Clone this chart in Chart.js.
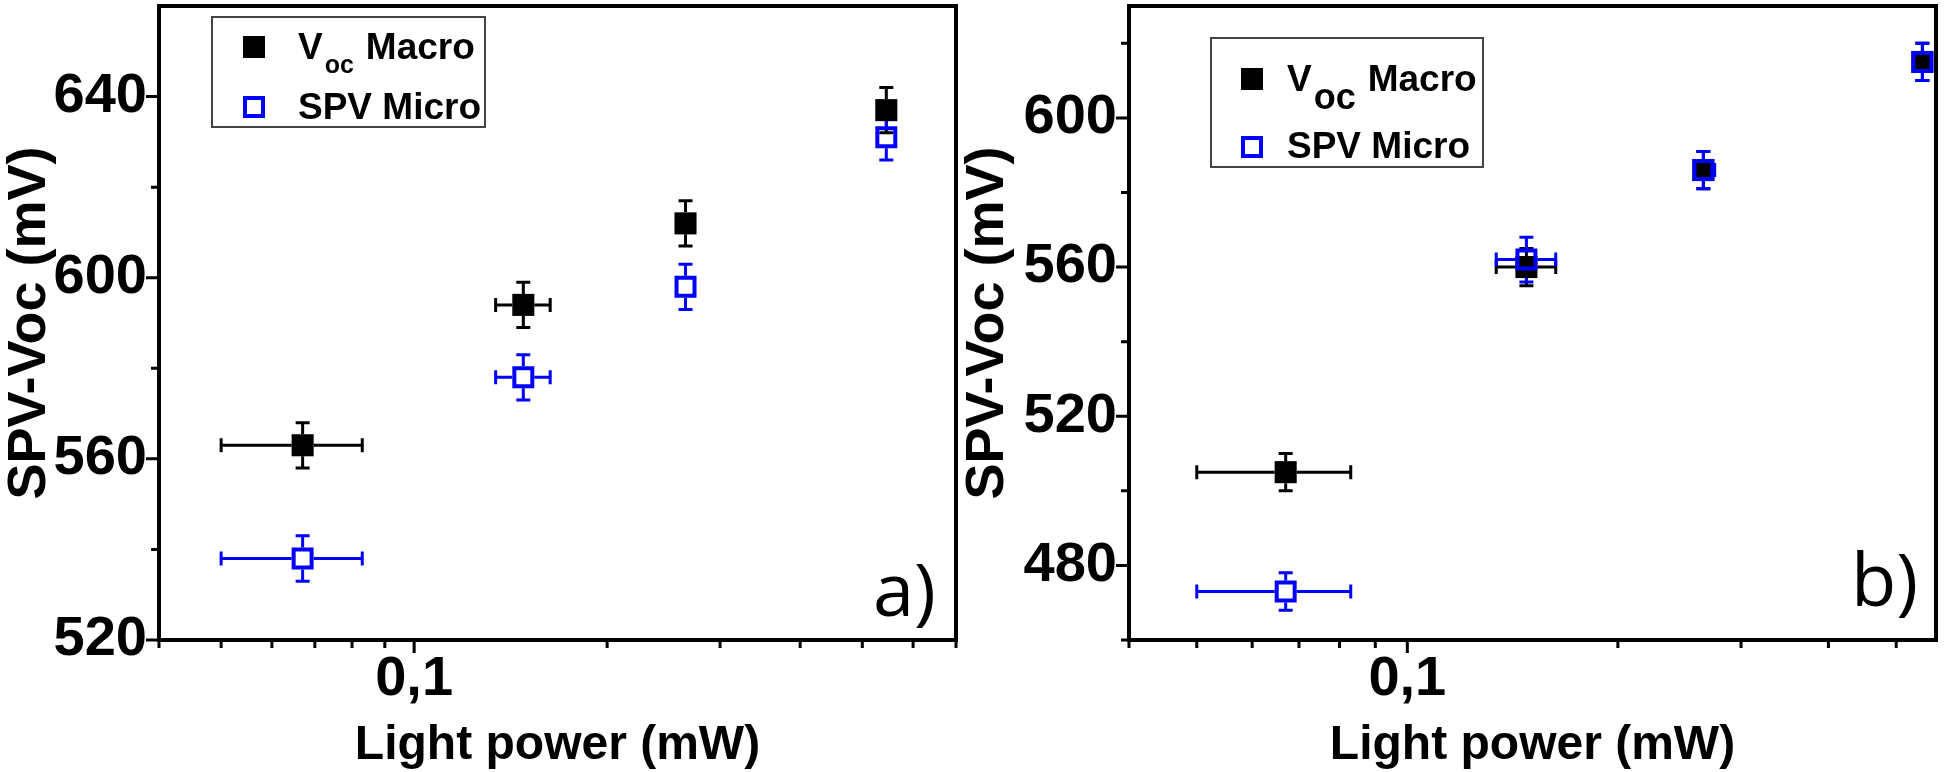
<!DOCTYPE html>
<html>
<head>
<meta charset="utf-8">
<script src="https://cdn.jsdelivr.net/npm/chart.js@4.4.0/dist/chart.umd.min.js"></script>
<style>
  html, body { margin: 0; padding: 0; background: #fff; }
  body { width: 1946px; height: 772px; position: relative; overflow: hidden; }
  canvas { position: absolute; top: 0; }
  #chartA { left: 0; }
  #chartB { left: 958px; }
</style>
</head>
<body>
<canvas id="chartA" width="958" height="772"></canvas>
<canvas id="chartB" width="988" height="772"></canvas>
<script>
// light power (mW), same four spots in both panels
const powerX = [0.067, 0.148, 0.265, 0.545];
const powerLo = [0.050, 0.134, 0.256, 0.527];
const powerHi = [0.083, 0.163, 0.275, 0.565];

// panel a)
const macroA = [563, 594, 612, 637];
const macroAErr = [5, 5, 5, 5];
const microA = [538, 578, 598, 631];
const microAErr = [5, 5, 5, 5];

// panel b)
const macroB = [505, 560, 586, 615];
const macroBErr = [5, 5, 5, 5];
const microB = [473, 562, 586, 615];
const microBErr = [5, 6, 5, 5];

// axes
const yMajorA = [520, 560, 600, 640];
const yMinorA = [540, 580, 620];
const yMajorB = [480, 520, 560, 600];
const yMinorB = [460, 500, 540, 580, 620];
const xMajor = [0.1];
const xMinorA = [0.04, 0.05, 0.06, 0.07, 0.08, 0.09, 0.2, 0.3, 0.4, 0.5, 0.6, 0.7];
const xMinorB = [0.04, 0.05, 0.06, 0.07, 0.08, 0.09, 0.2, 0.3, 0.4, 0.5];

const BLUE = '#0000ff';
const SANS = '"Liberation Sans", Arial, sans-serif';

const toPoints = (ys) => powerX.map((x, i) => ({ x: x, y: ys[i] }));

function drawErrorBars(chart) {
  const { ctx, scales: { x, y } } = chart;
  const half = 11, cap = 7;
  chart.data.datasets.forEach(ds => {
    ctx.save();
    ctx.strokeStyle = ds.barColor;
    ctx.lineWidth = 3;
    ctx.beginPath();
    ds.data.forEach((p, i) => {
      const cx = x.getPixelForValue(p.x), cy = y.getPixelForValue(p.y);
      const top = y.getPixelForValue(p.y + ds.errY[i]);
      const bot = y.getPixelForValue(p.y - ds.errY[i]);
      const lo = x.getPixelForValue(ds.errLo[i]);
      const hi = x.getPixelForValue(ds.errHi[i]);
      if (top < cy - half) {
        ctx.moveTo(cx, cy - half); ctx.lineTo(cx, top);
        ctx.moveTo(cx - cap, top); ctx.lineTo(cx + cap, top);
      }
      if (bot > cy + half) {
        ctx.moveTo(cx, cy + half); ctx.lineTo(cx, bot);
        ctx.moveTo(cx - cap, bot); ctx.lineTo(cx + cap, bot);
      }
      if (lo < cx - half) {
        ctx.moveTo(cx - half, cy); ctx.lineTo(lo, cy);
        ctx.moveTo(lo, cy - cap); ctx.lineTo(lo, cy + cap);
      }
      if (hi > cx + half) {
        ctx.moveTo(cx + half, cy); ctx.lineTo(hi, cy);
        ctx.moveTo(hi, cy - cap); ctx.lineTo(hi, cy + cap);
      }
    });
    ctx.stroke();
    ctx.restore();
  });
}

function drawFrame(chart, o) {
  const { ctx, chartArea: a, scales: { x, y } } = chart;
  ctx.save();
  ctx.strokeStyle = '#000';
  ctx.lineWidth = 3;
  ctx.beginPath();
  const tick = (v, len, horiz) => {
    if (horiz) {
      const px = x.getPixelForValue(v);
      ctx.moveTo(px, a.bottom); ctx.lineTo(px, a.bottom + len);
    } else {
      const py = y.getPixelForValue(v);
      ctx.moveTo(a.left, py); ctx.lineTo(a.left - len, py);
    }
  };
  o.xMajor.forEach(v => tick(v, 13, true));
  o.xMinor.forEach(v => tick(v, 8, true));
  o.yMajor.forEach(v => tick(v, 13, false));
  o.yMinor.forEach(v => tick(v, 8, false));
  ctx.stroke();
  ctx.lineWidth = 4;
  ctx.strokeRect(a.left, a.top, a.right - a.left, a.bottom - a.top);
  ctx.restore();
}

function drawLegend(chart, L) {
  const ctx = chart.ctx;
  ctx.save();
  ctx.fillStyle = '#fff';
  ctx.fillRect(L.box[0], L.box[1], L.box[2], L.box[3]);
  ctx.strokeStyle = '#444';
  ctx.lineWidth = 2;
  ctx.strokeRect(L.box[0], L.box[1], L.box[2], L.box[3]);
  // symbols
  ctx.fillStyle = '#000';
  ctx.fillRect(L.mx - 11, L.row1 - 11, 22, 22);
  ctx.strokeStyle = BLUE;
  ctx.lineWidth = 4;
  ctx.strokeRect(L.mx - 9, L.row2 - 9, 18, 18);
  // texts
  ctx.fillStyle = '#000';
  ctx.textBaseline = 'alphabetic';
  ctx.textAlign = 'left';
  ctx.font = 'bold 37px ' + SANS;
  ctx.fillText('V', L.tx, L.base1);
  let xx = L.tx + ctx.measureText('V').width + 2;
  ctx.font = 'bold ' + L.subSize + 'px ' + SANS;
  ctx.fillText('oc', xx, L.subBase);
  xx += ctx.measureText('oc').width + 12;
  ctx.font = 'bold 37px ' + SANS;
  ctx.fillText('Macro', xx, L.base1);
  ctx.fillText('SPV Micro', L.tx, L.base2);
  // panel tag
  ctx.font = '74px "Open Sans", "Noto Sans", sans-serif';
  ctx.fillText(L.tag, L.tagX, L.tagY);
  ctx.restore();
}

const decor = {
  id: 'decor',
  beforeDatasetsDraw(chart) { drawErrorBars(chart); },
  afterDraw(chart, args, opts) {
    drawFrame(chart, opts);
    drawLegend(chart, opts.legend);
  }
};

const noPad = s => { s.paddingTop = 0; s.paddingBottom = 0; s.paddingLeft = 0; s.paddingRight = 0; };

function makeChart(id, cfg) {
  return new Chart(document.getElementById(id), {
    type: 'scatter',
    data: {
      datasets: [
        {
          label: 'Voc Macro',
          data: toPoints(cfg.macro),
          errY: cfg.macroErr, errLo: powerLo, errHi: powerHi, barColor: '#000',
          pointStyle: 'rect', pointRadius: 15.6, pointHoverRadius: 15.6,
          backgroundColor: '#000', borderWidth: 0, order: 2
        },
        {
          label: 'SPV Micro',
          data: toPoints(cfg.micro),
          errY: cfg.microErr, errLo: powerLo, errHi: powerHi, barColor: BLUE,
          pointStyle: 'rect', pointRadius: 12.7, pointHoverRadius: 12.7,
          backgroundColor: 'rgba(0,0,0,0)', borderColor: BLUE, borderWidth: 4, order: 1
        }
      ]
    },
    options: {
      responsive: false,
      animation: false,
      events: [],
      layout: { autoPadding: false, padding: { top: 6, right: cfg.padRight, left: 0, bottom: 0 } },
      plugins: {
        legend: { display: false },
        tooltip: { enabled: false },
        decor: {
          xMajor: xMajor, xMinor: cfg.xMinor,
          yMajor: cfg.yMajor, yMinor: cfg.yMinor,
          legend: cfg.legend
        }
      },
      scales: {
        x: {
          type: 'logarithmic',
          min: 0.04, max: cfg.xMax,
          afterBuildTicks: s => { s.ticks = xMajor.map(v => ({ value: v })); },
          afterFit: s => { s.height = 132; noPad(s); },
          grid: { display: false, drawTicks: false },
          border: { display: false },
          ticks: {
            autoSkip: false, maxRotation: 0, padding: 6, color: '#000',
            font: { family: SANS, size: 56, weight: 'bold' },
            callback: v => String(v).replace('.', ',')
          },
          title: {
            display: true, text: 'Light power (mW)', color: '#000',
            font: { family: SANS, size: 48, weight: 'bold', lineHeight: 1.1 },
            padding: { top: 0, bottom: 0 }
          }
        },
        y: {
          min: cfg.yMin, max: cfg.yMax,
          afterBuildTicks: s => { s.ticks = cfg.yMajor.map(v => ({ value: v })); },
          afterFit: s => { s.width = cfg.yWidth; noPad(s); },
          grid: { display: false, drawTicks: false },
          border: { display: false },
          ticks: {
            padding: 12, color: '#000',
            font: { family: SANS, size: 56, weight: 'bold' }
          },
          title: {
            display: true, text: 'SPV-Voc (mV)', color: '#000',
            font: { family: SANS, size: 54, weight: 'bold', lineHeight: 1.1 },
            padding: { top: 0, bottom: 0 }
          }
        }
      }
    },
    plugins: [decor]
  });
}

makeChart('chartA', {
  macro: macroA, macroErr: macroAErr, micro: microA, microErr: microAErr,
  xMax: 0.7, xMinor: xMinorA,
  yMin: 520, yMax: 660, yMajor: yMajorA, yMinor: yMinorA,
  yWidth: 159, padRight: 2,
  legend: {
    box: [212, 17, 273, 110], mx: 254, row1: 47, row2: 107,
    tx: 298, base1: 59, base2: 119, subSize: 25, subBase: 73,
    tag: 'a)', tagX: 873, tagY: 616
  }
});

makeChart('chartB', {
  macro: macroB, macroErr: macroBErr, micro: microB, microErr: microBErr,
  xMax: 0.57, xMinor: xMinorB,
  yMin: 460, yMax: 630, yMajor: yMajorB, yMinor: yMinorB,
  yWidth: 171, padRight: 10,
  legend: {
    box: [253, 38, 272, 129], mx: 294, row1: 79, row2: 147,
    tx: 329, base1: 91, base2: 158, subSize: 36, subBase: 109,
    tag: 'b)', tagX: 893, tagY: 606
  }
});
</script>
</body>
</html>
